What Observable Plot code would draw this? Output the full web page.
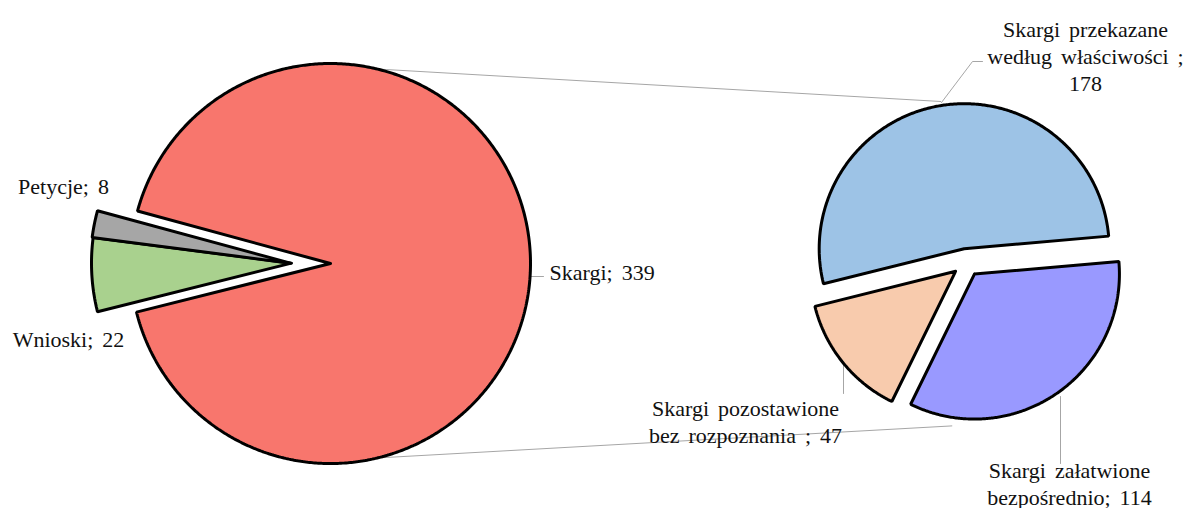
<!DOCTYPE html>
<html><head><meta charset="utf-8">
<script src="https://cdn.jsdelivr.net/npm/d3@7"></script>
<script src="https://cdn.jsdelivr.net/npm/@observablehq/plot@0.6"></script>
<style>body{margin:0;background:#fff} svg text{word-spacing:3.5px}</style>
</head><body><div id="chart"></div>
<script>
// ---- data ----
const mainCategories = ["Skargi", "Wnioski", "Petycje"];
const mainValues = [339, 22, 8];
const mainColors = ["#F8766D", "#A9D18E", "#A6A6A6"];

const subCategories = ["Skargi przekazane według właściwości", "Skargi załatwione bezpośrednio", "Skargi pozostawione bez rozpoznania"];
const subValues = [178, 114, 47];
const subColors = ["#9DC3E6", "#9999FF", "#F8CBAD"];
const subLabelPrefix = ["Skargi przekazane\nwedług właściwości ;\n", "Skargi załatwione\nbezpośrednio; ", "Skargi pozostawione\nbez rozpoznania ; "];

// ---- layout ----
const W = 1196, H = 508;
const deg = Math.PI / 180;
const mainPie = {cx: 330, cy: 263, r: 200, start: 285.2, explode: [0, 39, 40], dir: [null, 270.5, 270.5]};
const subPie = {cx: 966, cy: 262, r: 145, start: 256, explode: [14, 14, 14], dir: [null, null, null]};
const mainLabelPos = [{x: 549, y: 271, anchor: "start"}, {x: 68, y: 338, anchor: "middle"}, {x: 63, y: 185, anchor: "middle"}];
const subLabelPos = [{x: 1085, y: 55, anchor: "middle"}, {x: 1069, y: 482, anchor: "middle"}, {x: 745, y: 420, anchor: "middle"}];
const leaderPaths = [
  [[530, 276], [543, 276]],
  [[941, 102], [972, 61], [982, 61]],
  [[843, 363], [843, 393]],
  [[1060, 396], [1060, 463]]
];

function slicePoints(values, names, cfg) {
  const a0 = cfg.start * deg;
  const arcs = d3.pie().sort(null).value(d => d).startAngle(a0).endAngle(a0 + 2 * Math.PI)(values);
  const pts = [];
  arcs.forEach((a, i) => {
    const dir = cfg.dir[i] != null ? cfg.dir[i] * deg : (a.startAngle + a.endAngle) / 2;
    const ex = cfg.explode[i];
    const vx = cfg.cx + ex * Math.sin(dir), vy = cfg.cy - ex * Math.cos(dir);
    const name = names[i];
    pts.push({name, x: vx, y: vy});
    const n = Math.max(4, Math.ceil((a.endAngle - a.startAngle) / deg) * 2);
    for (let k = 0; k <= n; k++) {
      const t = a.startAngle + (a.endAngle - a.startAngle) * k / n;
      pts.push({name, x: vx + cfg.r * Math.sin(t), y: vy - cfg.r * Math.cos(t)});
    }
    pts.push({name, x: vx, y: vy});
  });
  return pts;
}

const mainPts = slicePoints(mainValues, mainCategories, mainPie);
const subPts = slicePoints(subValues, subCategories, subPie);

function onCircle(cx, cy, r, bearing) {
  return [cx + r * Math.sin(bearing * deg), cy - r * Math.cos(bearing * deg)];
}
const connectors = [
  {a: onCircle(mainPie.cx, mainPie.cy, mainPie.r, 13.5), b: onCircle(subPie.cx, subPie.cy, 163, 351)},
  {a: onCircle(mainPie.cx, mainPie.cy, mainPie.r, 166.5), b: onCircle(subPie.cx, subPie.cy, 164, 185)}
];

const leaders = leaderPaths.flatMap((p, i) => p.map(([x, y]) => ({id: i, x, y})));

const labels = [
  ...mainCategories.map((c, i) => ({text: `${c}; ${mainValues[i]}`, ...mainLabelPos[i]})),
  ...subCategories.map((c, i) => ({text: `${subLabelPrefix[i]}${subValues[i]}`, ...subLabelPos[i]}))
];
const textStyle = {x: "x", y: "y", text: "text", fontSize: 22, lineHeight: 1.22, fontFamily: "Liberation Serif", fill: "#111"};

const chart = Plot.plot({
  width: W, height: H, margin: 0,
  style: {background: "#fff", overflow: "visible"},
  x: {domain: [0, W], range: [0, W], axis: null},
  y: {domain: [0, H], range: [0, H], axis: null},
  color: {domain: [...mainCategories, ...subCategories], range: [...mainColors, ...subColors]},
  marks: [
    Plot.link(connectors, {x1: d => d.a[0], y1: d => d.a[1], x2: d => d.b[0], y2: d => d.b[1], stroke: "#A6A6A6", strokeWidth: 1}),
    Plot.line(leaders, {x: "x", y: "y", z: "id", stroke: "#A6A6A6", strokeWidth: 1}),
    Plot.line(mainPts, {x: "x", y: "y", z: "name", fill: "name", stroke: "#000", strokeWidth: 3, strokeLinejoin: "miter"}),
    Plot.line(subPts, {x: "x", y: "y", z: "name", fill: "name", stroke: "#000", strokeWidth: 3, strokeLinejoin: "miter"}),
    Plot.text(labels.filter(d => d.anchor === "start"), {...textStyle, textAnchor: "start"}),
    Plot.text(labels.filter(d => d.anchor === "middle"), {...textStyle, textAnchor: "middle"})
  ]
});
document.getElementById("chart").appendChild(chart);
</script>
</body></html>
